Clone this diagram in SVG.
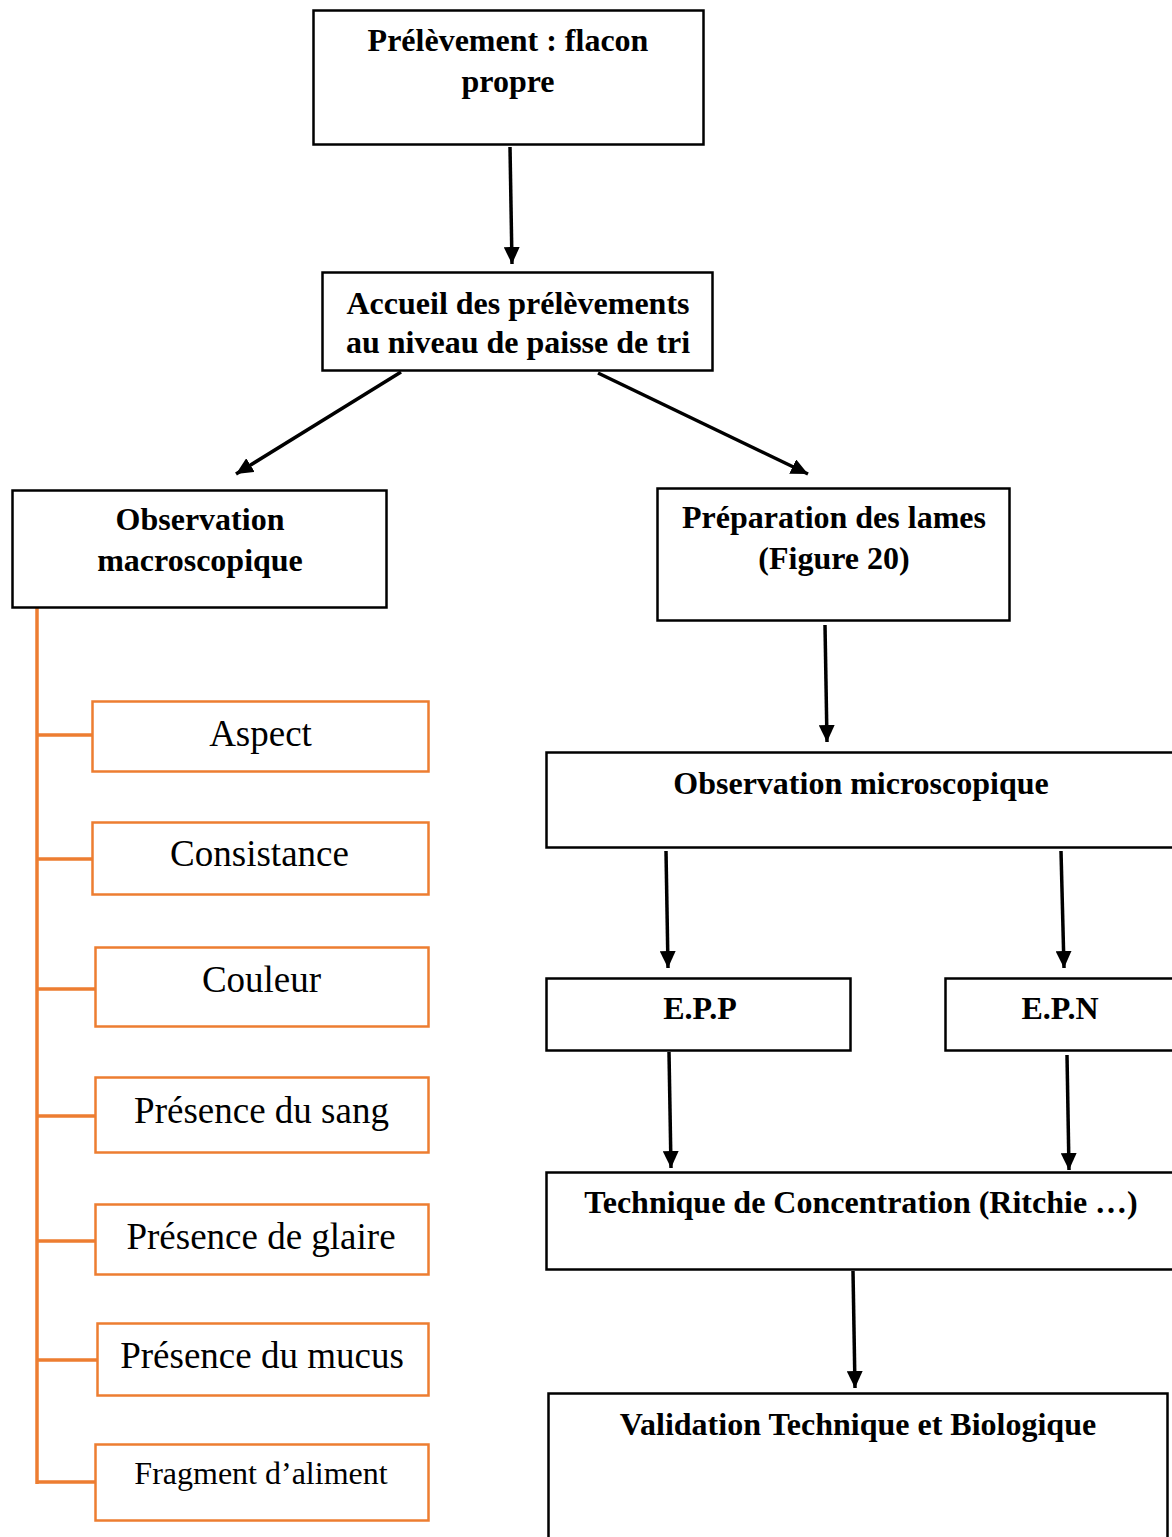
<svg xmlns="http://www.w3.org/2000/svg" width="1172" height="1537" viewBox="0 0 1172 1537">
<defs>
<marker id="ah" markerUnits="userSpaceOnUse" markerWidth="18" markerHeight="16" refX="17" refY="8" orient="auto">
<path d="M0,0 L17,8 L0,16 z" fill="#000"/>
</marker>
<style>
.box{fill:#fff;stroke:#000;stroke-width:2.5}
.obox{fill:#fff;stroke:#ED7D31;stroke-width:2.5}
.b{font-family:"Liberation Serif","Times New Roman",serif;font-weight:bold;font-size:32px;fill:#000;text-anchor:middle}
.r{font-family:"Liberation Serif","Times New Roman",serif;font-size:37px;fill:#000;text-anchor:middle}
.con{stroke:#000;stroke-width:3.5;fill:none;marker-end:url(#ah)}
.oline{stroke:#ED7D31;stroke-width:3.5;fill:none}
</style>
</defs>
<rect width="1172" height="1537" fill="#fff"/>

<g id="connectors">
<line class="con" x1="510" y1="147" x2="512" y2="264"/>
<line class="con" x1="401" y1="372" x2="236" y2="474"/>
<line class="con" x1="598" y1="373" x2="808" y2="474"/>
<line class="con" x1="825" y1="625" x2="827" y2="742"/>
<line class="con" x1="666" y1="851" x2="668" y2="968"/>
<line class="con" x1="1061" y1="851" x2="1064" y2="968"/>
<line class="con" x1="669" y1="1052" x2="671" y2="1168"/>
<line class="con" x1="1067" y1="1055" x2="1069" y2="1170"/>
<line class="con" x1="853" y1="1271" x2="855" y2="1388"/>
<path class="oline" d="M37,608 V1484"/>
<path class="oline" d="M37,735 H94 M37,859 H94 M37,989 H96 M37,1116 H96 M37,1241 H96 M37,1360 H98 M37,1482 H96"/>
</g>

<g id="n-prelevement">
<rect class="box" x="313.5" y="10.5" width="390" height="134"/>
<text class="b" x="508" y="51">Prélèvement : flacon</text>
<text class="b" x="508" y="92">propre</text>
</g>
<g id="n-accueil">
<rect class="box" x="322.5" y="272.5" width="390" height="98"/>
<text class="b" x="518" y="314">Accueil des prélèvements</text>
<text class="b" x="518" y="353">au niveau de paisse de tri</text>
</g>
<g id="n-macro">
<rect class="box" x="12.5" y="490.5" width="374" height="117"/>
<text class="b" x="200" y="530">Observation</text>
<text class="b" x="200" y="571">macroscopique</text>
</g>
<g id="n-preparation">
<rect class="box" x="657.5" y="488.5" width="352" height="132"/>
<text class="b" x="834" y="528">Préparation des lames</text>
<text class="b" x="834" y="569">(Figure 20)</text>
</g>
<g id="n-micro">
<rect class="box" x="546.5" y="752.5" width="640" height="95"/>
<text class="b" x="861" y="794">Observation microscopique</text>
</g>
<g id="n-epp">
<rect class="box" x="546.5" y="978.5" width="304" height="72"/>
<text class="b" x="700" y="1019">E.P.P</text>
</g>
<g id="n-epn">
<rect class="box" x="945.5" y="978.5" width="240" height="72"/>
<text class="b" x="1060" y="1019">E.P.N</text>
</g>
<g id="n-technique">
<rect class="box" x="546.5" y="1172.5" width="640" height="97"/>
<text class="b" x="861" y="1213">Technique de Concentration (Ritchie …)</text>
</g>
<g id="n-validation">
<rect class="box" x="548.5" y="1393.5" width="619" height="160"/>
<text class="b" x="858" y="1435">Validation Technique et Biologique</text>
</g>

<g id="n-aspect">
<rect class="obox" x="92.5" y="701.5" width="336" height="70"/>
<text class="r" x="260.5" y="746">Aspect</text>
</g>
<g id="n-consistance">
<rect class="obox" x="92.5" y="822.5" width="336" height="72"/>
<text class="r" x="259.5" y="866">Consistance</text>
</g>
<g id="n-couleur">
<rect class="obox" x="95.5" y="947.5" width="333" height="79"/>
<text class="r" x="261.5" y="992">Couleur</text>
</g>
<g id="n-sang">
<rect class="obox" x="95.5" y="1077.5" width="333" height="75"/>
<text class="r" x="261.5" y="1123">Présence du sang</text>
</g>
<g id="n-glaire">
<rect class="obox" x="95.5" y="1204.5" width="333" height="70"/>
<text class="r" x="261" y="1249">Présence de glaire</text>
</g>
<g id="n-mucus">
<rect class="obox" x="97.5" y="1323.5" width="331" height="72"/>
<text class="r" x="262" y="1368">Présence du mucus</text>
</g>
<g id="n-fragment">
<rect class="obox" x="95.5" y="1444.5" width="333" height="76"/>
<text class="r" x="261" y="1484" style="font-size:32px">Fragment d’aliment</text>
</g>
</svg>
